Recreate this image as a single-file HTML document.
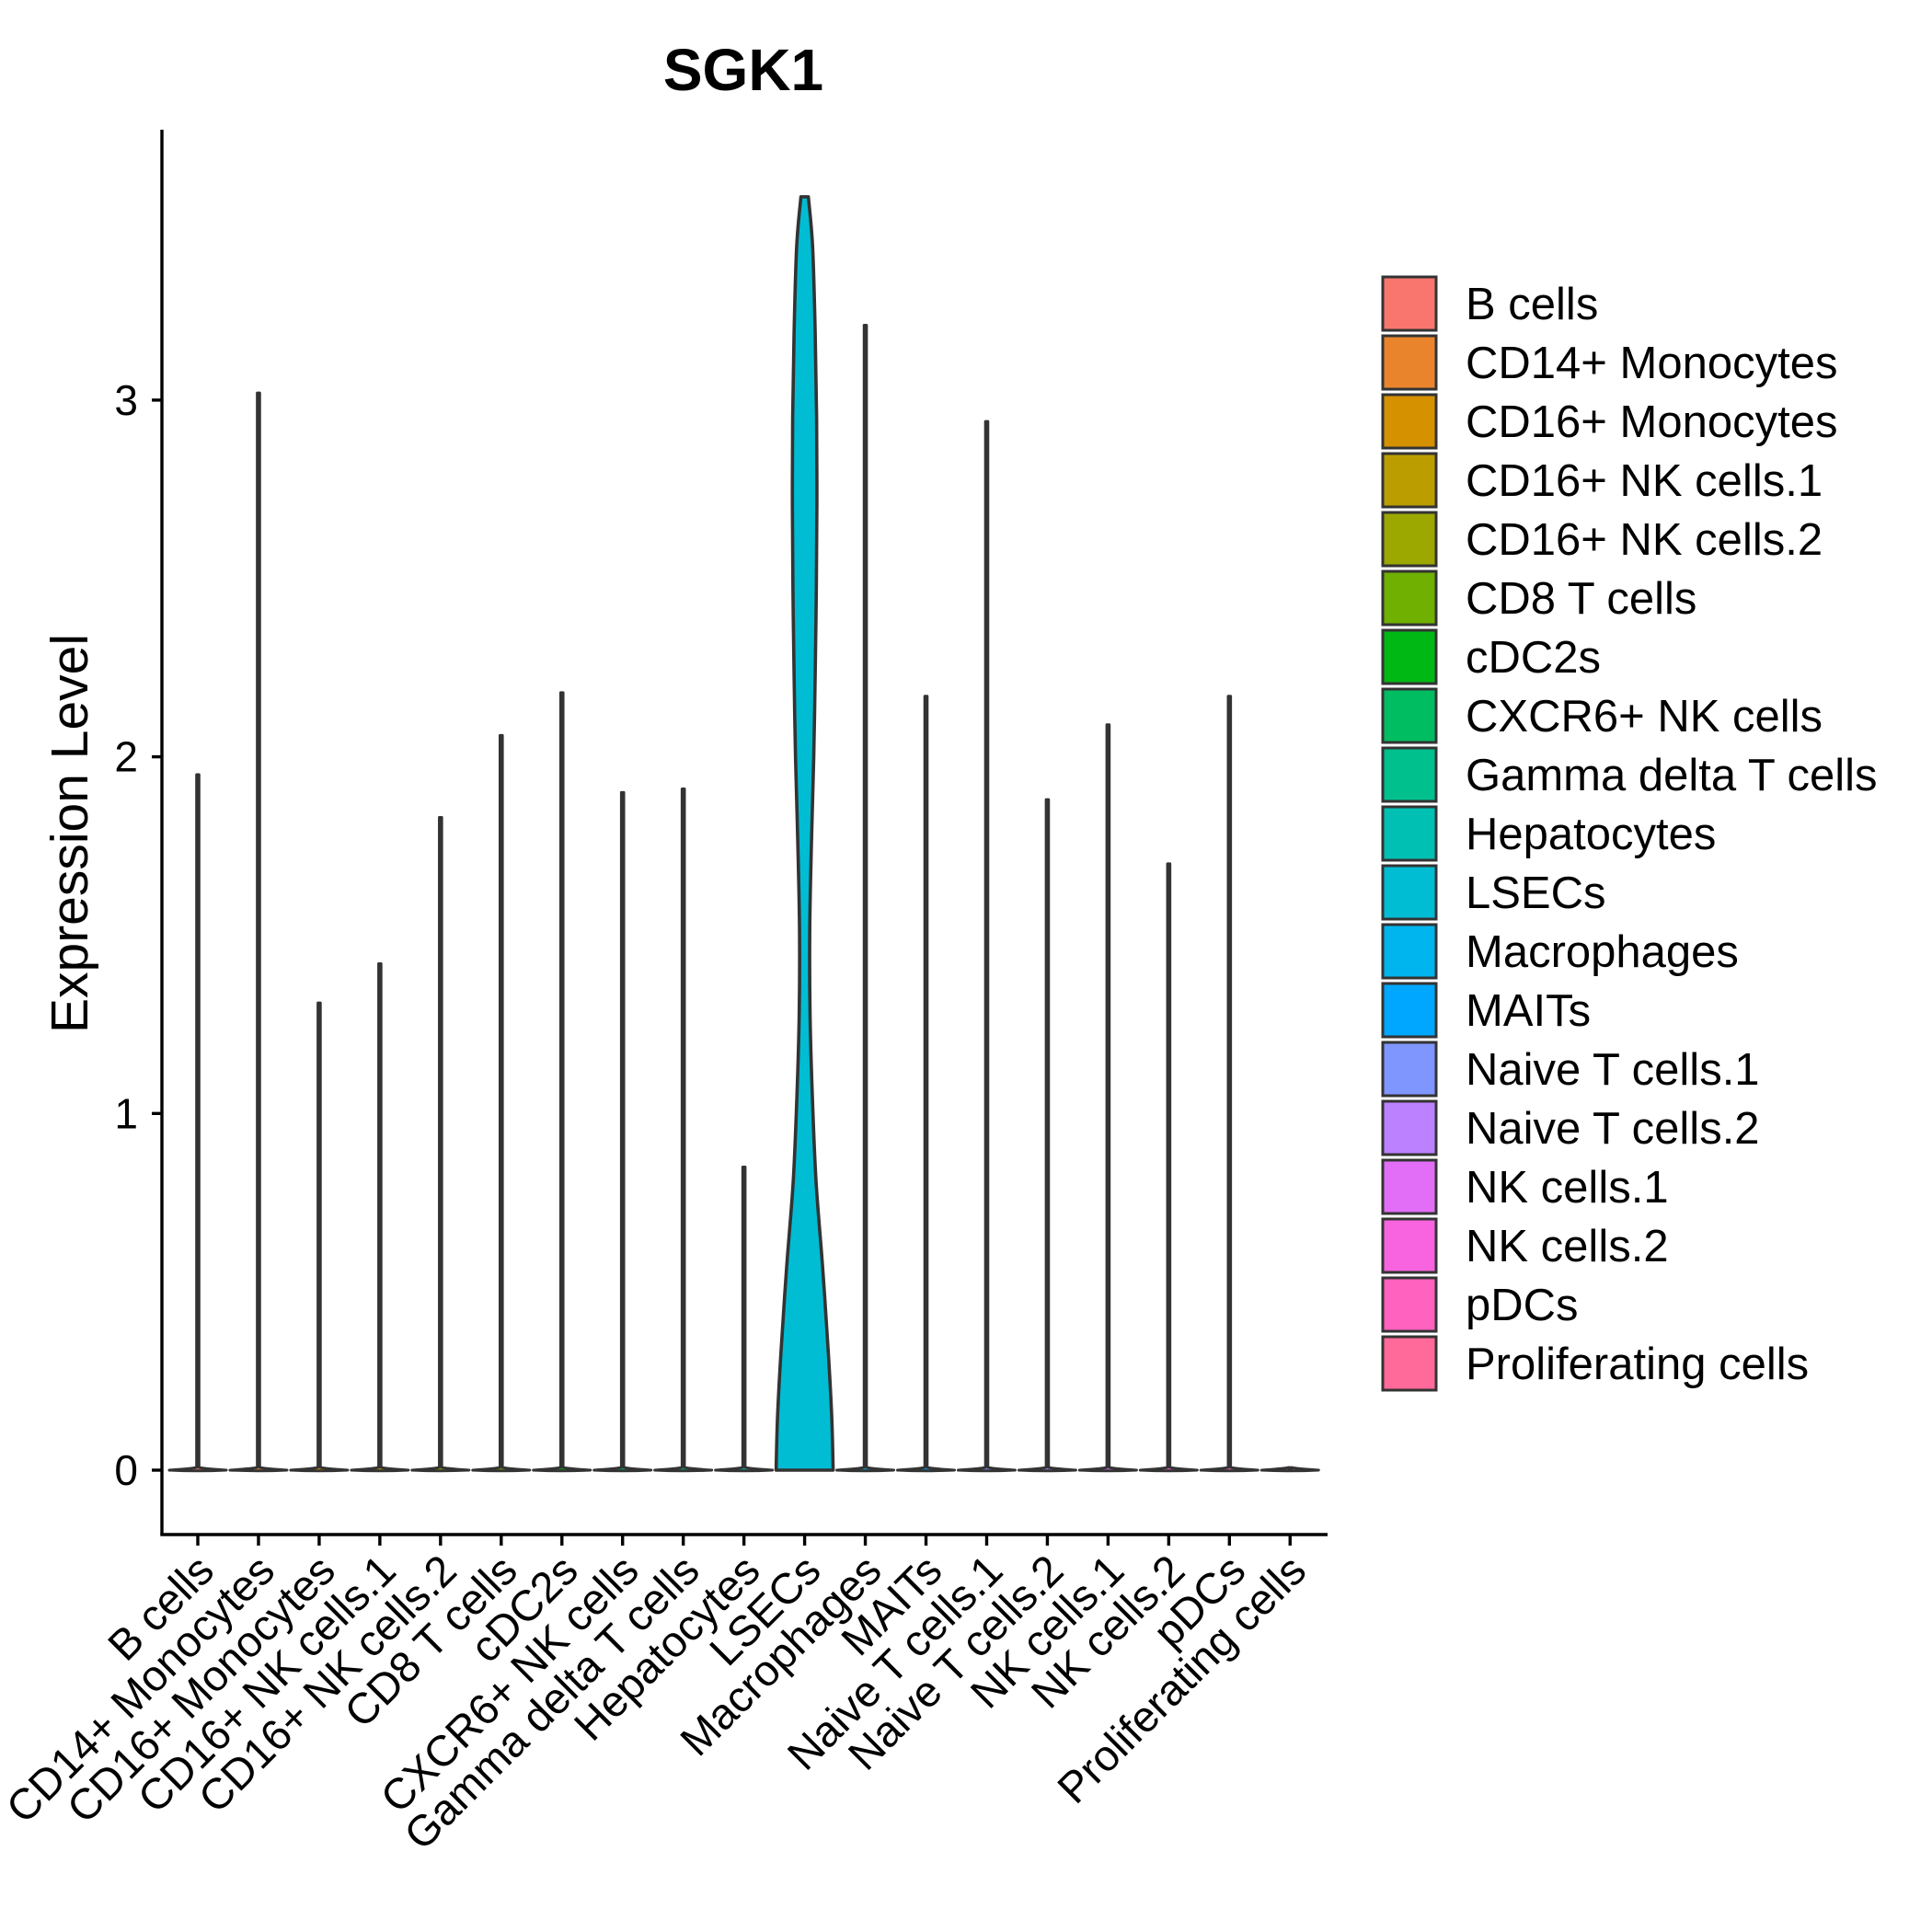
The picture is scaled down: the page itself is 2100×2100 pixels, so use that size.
<!DOCTYPE html>
<html><head><meta charset="utf-8"><style>
html,body{margin:0;padding:0;background:#fff;}
svg{display:block;font-family:"Liberation Sans",sans-serif;}
</style></head><body>
<svg id="chart" width="2100" height="2100" viewBox="0 0 2100 2100" xmlns="http://www.w3.org/2000/svg">
<text x="808" y="98" text-anchor="middle" font-size="64" font-weight="bold">SGK1</text>
<text transform="translate(95,906) rotate(-90)" text-anchor="middle" font-size="57">Expression Level</text>
<g id="plot"></g>
<g id="legend"></g>
</svg>
<script>
const categories=["B cells","CD14+ Monocytes","CD16+ Monocytes","CD16+ NK cells.1","CD16+ NK cells.2","CD8 T cells","cDC2s","CXCR6+ NK cells","Gamma delta T cells","Hepatocytes","LSECs","Macrophages","MAITs","Naive T cells.1","Naive T cells.2","NK cells.1","NK cells.2","pDCs","Proliferating cells"];
const maxValues=[1.95,3.02,1.31,1.42,1.83,2.06,2.18,1.90,1.91,0.85,3.57,3.21,2.17,2.94,1.88,2.09,1.70,2.17,0];
const colors=["#F8766D","#E9842C","#D69100","#BC9D00","#9CA700","#6FB000","#00B813","#00BD61","#00C08E","#00C0B4","#00BDD4","#00B5EE","#00A7FF","#7F96FF","#BC81FF","#E26EF7","#F863DF","#FF62BF","#FF6A9A"];
const yTicks=[0,1,2,3];
// LSECs density profile (value, relative half-width)
const lsecValues=[0,0.15,0.33,0.57,0.81,1.05,1.28,1.52,1.76,2.0,2.23,2.47,2.71,2.95,3.19,3.43,3.57];
const lsecDensity=[1,0.95,0.83,0.63,0.40,0.27,0.19,0.18,0.24,0.32,0.37,0.41,0.43,0.42,0.37,0.28,0.13];

const NS="http://www.w3.org/2000/svg";
const X0=215, DX=65.96, Y0=1598, PU=387.7, HALF=31;
const xs=i=>X0+i*DX, ys=v=>Y0-v*PU;
const plot=document.getElementById('plot');
function mk(tag,attrs,parent){const e=document.createElementNS(NS,tag);for(const k in attrs)e.setAttribute(k,attrs[k]);parent.appendChild(e);return e;}
function smooth(pts){
  let d='M'+pts[0][0]+','+pts[0][1];
  for(let k=0;k<pts.length-1;k++){
    const p0=pts[Math.max(0,k-1)],p1=pts[k],p2=pts[k+1],p3=pts[Math.min(pts.length-1,k+2)];
    const c1=[p1[0]+(p2[0]-p0[0])/6,p1[1]+(p2[1]-p0[1])/6];
    const c2=[p2[0]-(p3[0]-p1[0])/6,p2[1]-(p3[1]-p1[1])/6];
    d+=` C${c1[0]},${c1[1]} ${c2[0]},${c2[1]} ${p2[0]},${p2[1]}`;
  }
  return d;
}

let ax=mk('line',{x1:176,y1:141,x2:176,y2:1668,stroke:'#000','stroke-width':3.4},plot);


ax=mk('line',{x1:174.3,y1:1668,x2:1443,y2:1668,stroke:'#000','stroke-width':3.4},plot);


yTicks.forEach(t=>{
  const l=mk('line',{x1:165,y1:ys(t),x2:176,y2:ys(t),stroke:'#000','stroke-width':3.4},plot);
  
  
  const tx=mk('text',{x:150,y:ys(t)+16,'text-anchor':'end','font-size':46},plot);
  tx.textContent=t;
  
  
});
categories.forEach((c,i)=>{
  const x=xs(i);
  const l=mk('line',{x1:x,y1:1668,x2:x,y2:1680,stroke:'#000','stroke-width':3.4},plot);
  
  
  const tx=mk('text',{transform:`translate(${x+20},${1710}) rotate(-45)`,'text-anchor':'end','font-size':47},plot);
  tx.textContent=c;
  
  
  let d;
  if(c==="LSECs"){
    let L=[],R=[];
    lsecValues.forEach((v,k)=>{const w=lsecDensity[k]*HALF;R.push([x+w,ys(v)]);L.push([x-w,ys(v)]);});
    L.reverse();
    d=smooth(R)+' L'+L[0][0]+','+L[0][1]+smooth(L).replace(/^M[^ C]+/,'')+'Z';
  } else {
    const top=ys(maxValues[i]);
    d=`M${x-HALF},${Y0} Q${x-4},${Y0-2} ${x-1.3},${Y0-3} L${x-1.3},${top} L${x+1.3},${top} L${x+1.3},${Y0-3} Q${x+4},${Y0-2} ${x+HALF},${Y0} Q${x},${Y0+1.5} ${x-HALF},${Y0}Z`;
  }
  const p=mk('path',{d:d,fill:colors[i],stroke:'#333','stroke-width':c==="LSECs"?3.6:3,'stroke-linejoin':'round'},plot);
  
  
});
const lg=document.getElementById('legend');
categories.forEach((c,i)=>{
  const y=301+i*64.0;
  const r=mk('rect',{x:1503,y:y,width:58,height:58,fill:colors[i],stroke:'#333','stroke-width':3},lg);
  
  
  const t=mk('text',{x:1593,y:y+46,'font-size':49},lg);
  t.textContent=c;
  
  
});
</script>
</body></html>
